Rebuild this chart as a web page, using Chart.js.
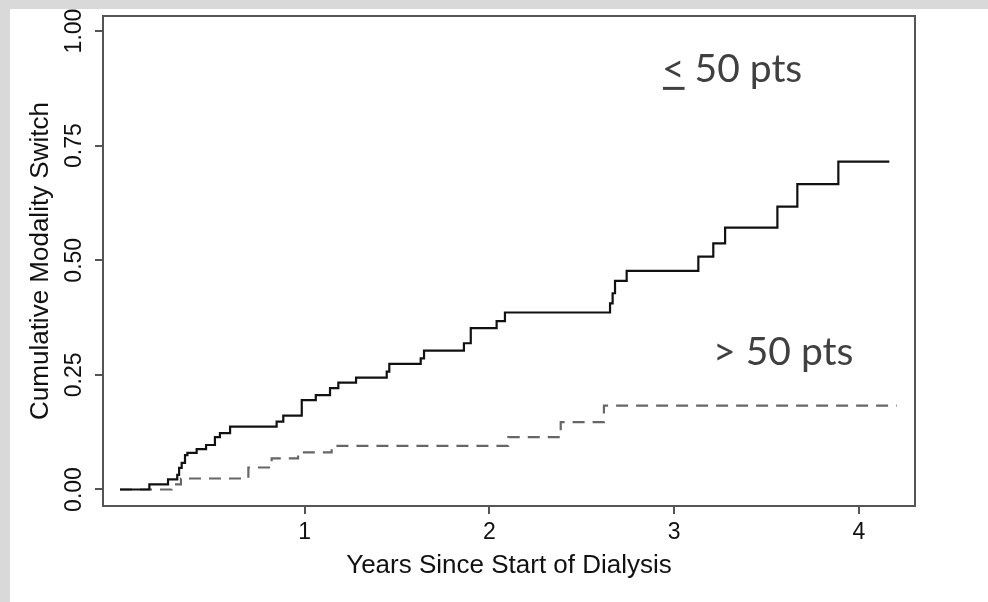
<!DOCTYPE html>
<html>
<head>
<meta charset="utf-8">
<title>Cumulative Modality Switch</title>
<script src="https://cdn.jsdelivr.net/npm/chart.js@4.4.1/dist/chart.umd.min.js"></script>
<style>
    html, body { margin: 0; padding: 0; background: #d9d9d9; }
    #frame { position: absolute; left: 10px; top: 9px; width: 978px; height: 593px; background: #fff; }
    canvas { display: block; }
</style>
</head>
<body>
<div id="frame"><canvas id="kmChart" width="978" height="593"></canvas></div>
<script>
// <= 50 pts group (solid step curve)
const lowYears = [0, 0.159, 0.26, 0.31, 0.32, 0.334, 0.352, 0.365, 0.415, 0.466, 0.514, 0.541, 0.596,
    0.848, 0.884, 0.984, 1.06, 1.137, 1.182, 1.278, 1.444, 1.458, 1.628, 1.646, 1.862, 1.899, 2.039,
    2.084, 2.653, 2.667, 2.68, 2.743, 3.131, 3.212, 3.276, 3.559, 3.667, 3.889, 4.165];
const lowSwitch = [0, 0.011, 0.022, 0.032, 0.047, 0.058, 0.075, 0.080, 0.088, 0.097, 0.114, 0.123, 0.137,
    0.148, 0.161, 0.195, 0.206, 0.221, 0.233, 0.244, 0.257, 0.274, 0.286, 0.303, 0.319, 0.352, 0.367,
    0.386, 0.406, 0.428, 0.455, 0.477, 0.508, 0.537, 0.571, 0.617, 0.666, 0.715, 0.715];

// > 50 pts group (dashed step curve)
const highYears = [0, 0.28, 0.33, 0.695, 0.821, 0.964, 1.146, 2.102, 2.386, 2.62, 4.205];
const highSwitch = [0, 0.011, 0.024, 0.048, 0.068, 0.081, 0.095, 0.114, 0.147, 0.183, 0.183];

const xTicks = [1, 2, 3, 4];
const yTicks = [0, 0.25, 0.5, 0.75, 1];
const yTickLabels = ['0.00', '0.25', '0.50', '0.75', '1.00'];

// group labels inside the plot (data coordinates of left end / baseline)
const noteLabels = ['< 50 pts', '> 50 pts'];
const noteX = [2.934, 3.211];
const noteY = [0.889, 0.2715];
const noteUnderlined = [true, false];

const axisFont = 'Liberation Sans, Arial, Helvetica, sans-serif';

function toPoints(xs, ys) {
    return xs.map((x, i) => ({ x: x, y: ys[i] }));
}

// R style frame, rotated y labels and the group notes
const plotExtras = {
    id: 'plotExtras',
    afterDraw(chart) {
        const ctx = chart.ctx;
        const area = chart.chartArea;
        const xs = chart.scales.x;
        const ys = chart.scales.y;

        ctx.save();
        ctx.strokeStyle = '#555';
        ctx.lineWidth = 2;
        ctx.strokeRect(area.left, area.top, area.right - area.left, area.bottom - area.top);

        // y tick labels, rotated like in R
        ctx.fillStyle = '#111';
        ctx.font = '23px ' + axisFont;
        ctx.textAlign = 'center';
        ctx.textBaseline = 'middle';
        yTicks.forEach((v, i) => {
            ctx.save();
            ctx.translate(65, ys.getPixelForValue(v));
            ctx.rotate(-Math.PI / 2);
            ctx.fillText(yTickLabels[i], 0, 0);
            ctx.restore();
        });

        // group notes
        ctx.fillStyle = '#404040';
        ctx.font = '39px Lato, "Open Sans", sans-serif';
        ctx.textAlign = 'left';
        ctx.textBaseline = 'alphabetic';
        noteLabels.forEach((label, i) => {
            const px = xs.getPixelForValue(noteX[i]);
            const py = ys.getPixelForValue(noteY[i]);
            const first = label.charAt(0);
            const rest = label.slice(1);
            ctx.fillText(first, px, py);
            const w = ctx.measureText(first).width;
            if (noteUnderlined[i]) {
                ctx.fillRect(px + 1, py + 5, w - 1, 3);
            }
            ctx.fillText(rest, px + w, py);
        });
        ctx.restore();
    }
};

document.addEventListener('DOMContentLoaded', function () {
    const ctx = document.getElementById('kmChart').getContext('2d');

    new Chart(ctx, {
        type: 'scatter',
        data: {
            datasets: [
                {
                    label: '<= 50 pts',
                    data: toPoints(lowYears, lowSwitch),
                    showLine: true,
                    stepped: 'before',
                    borderColor: '#111',
                    borderWidth: 2.2,
                    pointRadius: 0,
                    fill: false
                },
                {
                    label: '> 50 pts',
                    data: toPoints(highYears, highSwitch),
                    showLine: true,
                    stepped: 'before',
                    borderColor: '#666',
                    borderWidth: 2.2,
                    borderDash: [12, 8],
                    pointRadius: 0,
                    fill: false
                }
            ]
        },
        options: {
            responsive: false,
            animation: false,
            layout: { padding: { left: 0, top: 7, right: 73, bottom: 0 } },
            plugins: {
                legend: { display: false },
                tooltip: { enabled: false }
            },
            scales: {
                x: {
                    type: 'linear',
                    min: -0.092,
                    max: 4.304,
                    afterBuildTicks: scale => { scale.ticks = xTicks.map(v => ({ value: v })); },
                    afterFit: scale => { scale.height = 96; },
                    grid: {
                        display: true,
                        drawOnChartArea: false,
                        drawTicks: true,
                        tickLength: 8,
                        color: '#555',
                        lineWidth: 2
                    },
                    border: { display: false },
                    ticks: {
                        padding: 5,
                        color: '#111',
                        maxRotation: 0,
                        font: { family: axisFont, size: 23 }
                    },
                    title: {
                        display: true,
                        text: 'Years Since Start of Dialysis',
                        color: '#111',
                        font: { family: axisFont, size: 26 },
                        padding: { top: 0, bottom: 21 }
                    }
                },
                y: {
                    type: 'linear',
                    min: -0.036,
                    max: 1.0327,
                    afterBuildTicks: scale => { scale.ticks = yTicks.map(v => ({ value: v })); },
                    afterFit: scale => { scale.width = 93; },
                    grid: {
                        display: true,
                        drawOnChartArea: false,
                        drawTicks: true,
                        tickLength: 8,
                        color: '#555',
                        lineWidth: 2
                    },
                    border: { display: false },
                    ticks: { display: false },
                    title: {
                        display: true,
                        text: 'Cumulative Modality Switch',
                        color: '#111',
                        font: { family: axisFont, size: 26 },
                        padding: { top: 15, bottom: 0 }
                    }
                }
            }
        },
        plugins: [plotExtras]
    });
});
</script>
</body>
</html>
